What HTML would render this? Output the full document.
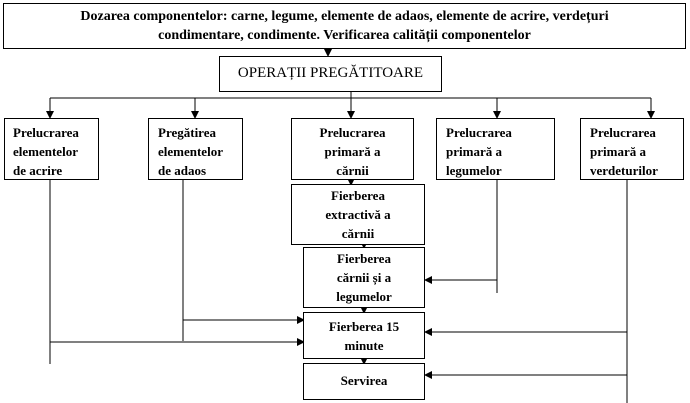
<!DOCTYPE html>
<html><head><meta charset="utf-8"><style>
body{margin:0;width:690px;height:403px;background:#fff;position:relative;overflow:hidden;font-family:"Liberation Serif",serif;font-weight:bold;font-size:13px;color:#000}
.b{position:absolute;border:1px solid #000;box-sizing:border-box;background:#fff;line-height:19px}
.c{text-align:center}
svg{position:absolute;left:0;top:0}
</style></head><body>
<svg width="690" height="403">
<defs><marker id="a" markerWidth="8" markerHeight="8" refX="7" refY="4" orient="auto" markerUnits="userSpaceOnUse"><path d="M0,0L8,4L0,8z"/></marker></defs>
<g stroke="#000" stroke-width="1" fill="none">
<line x1="328" y1="48" x2="328" y2="56" marker-end="url(#a)"/>
<line x1="351" y1="91" x2="351" y2="118" marker-end="url(#a)"/>
<line x1="50" y1="98" x2="651" y2="98"/>
<line x1="50" y1="98" x2="50" y2="118" marker-end="url(#a)"/>
<line x1="195" y1="98" x2="195" y2="118" marker-end="url(#a)"/>
<line x1="497" y1="98" x2="497" y2="118" marker-end="url(#a)"/>
<line x1="651" y1="98" x2="651" y2="118" marker-end="url(#a)"/>
<line x1="351" y1="179" x2="351" y2="185" marker-end="url(#a)"/>
<line x1="364" y1="240" x2="364" y2="248" marker-end="url(#a)"/>
<line x1="364" y1="303" x2="364" y2="313" marker-end="url(#a)"/>
<line x1="364" y1="354" x2="364" y2="364" marker-end="url(#a)"/>
<line x1="50" y1="179" x2="50" y2="364"/>
<line x1="50" y1="342" x2="304" y2="342" marker-end="url(#a)"/>
<line x1="183" y1="179" x2="183" y2="341"/>
<line x1="183" y1="320" x2="304" y2="320" marker-end="url(#a)"/>
<line x1="497" y1="179" x2="497" y2="293"/>
<line x1="497" y1="280" x2="425" y2="280" marker-end="url(#a)"/>
<line x1="627" y1="179" x2="627" y2="403"/>
<line x1="627" y1="332" x2="425" y2="332" marker-end="url(#a)"/>
<line x1="627" y1="375" x2="425" y2="375" marker-end="url(#a)"/>
</g></svg>
<div class="b c" style="left:3px;top:3px;width:683px;height:46px;padding-top:3px;font-size:14px">Dozarea componentelor: carne, legume, elemente de adaos, elemente de acrire, verdețuri<br>condimentare, condimente. Verificarea calității componentelor</div>
<div class="b c" style="left:219px;top:56px;width:223px;height:36px;padding-top:7px;font-weight:normal;font-size:15px">OPERAȚII PREGĂTITOARE</div>
<div class="b" style="left:4px;top:118px;width:95px;height:62px;padding:4px 0 0 8px">Prelucrarea<br>elementelor<br>de acrire</div>
<div class="b" style="left:148px;top:118px;width:95px;height:62px;padding:4px 0 0 9px">Pregătirea<br>elementelor<br>de adaos</div>
<div class="b c" style="left:291px;top:118px;width:123px;height:62px;padding-top:4px">Prelucrarea<br>primară a<br>cărnii</div>
<div class="b" style="left:436px;top:118px;width:119px;height:62px;padding:4px 0 0 9px">Prelucrarea<br>primară a<br>legumelor</div>
<div class="b" style="left:580px;top:118px;width:104px;height:62px;padding:4px 0 0 9px">Prelucrarea<br>primară a<br>verdeturilor</div>
<div class="b c" style="left:291px;top:184px;width:134px;height:61px;padding-top:1px;line-height:19px">Fierberea<br>extractivă a<br>cărnii</div>
<div class="b c" style="left:303px;top:247px;width:122px;height:61px;padding-top:1px;line-height:19px">Fierberea<br>cărnii și a<br>legumelor</div>
<div class="b c" style="left:303px;top:312px;width:122px;height:47px;padding-top:4px;line-height:19px">Fierberea 15<br>minute</div>
<div class="b c" style="left:303px;top:363px;width:122px;height:37px;padding-top:7px">Servirea</div>
</body></html>
